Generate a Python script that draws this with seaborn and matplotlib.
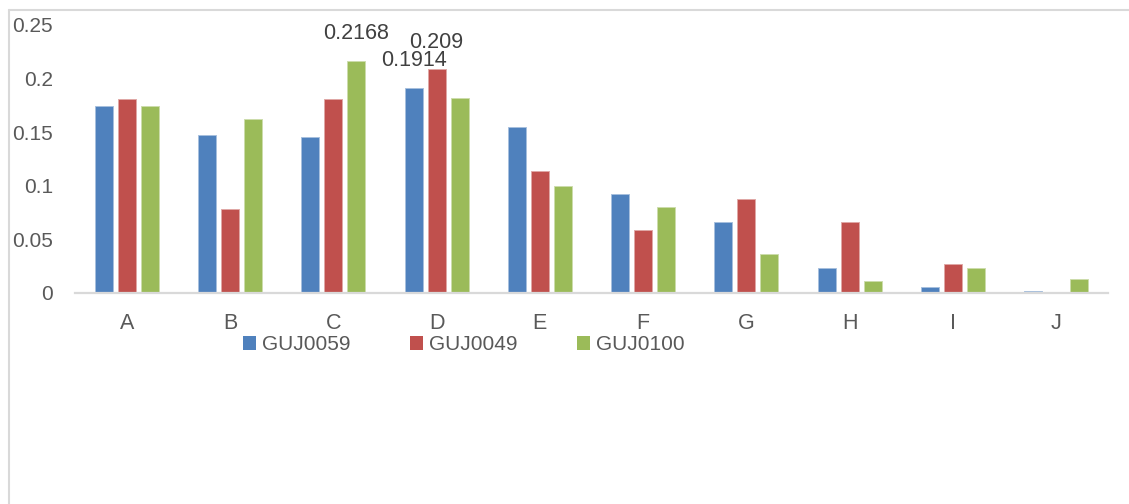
import pandas as pd
import matplotlib
matplotlib.use("Agg")
import matplotlib.pyplot as plt
from matplotlib.lines import Line2D
from matplotlib.patches import Patch
from matplotlib.ticker import FuncFormatter
import seaborn as sns

categories = ['A', 'B', 'C', 'D', 'E', 'F', 'G', 'H', 'I', 'J']
series = ['GUJ0059', 'GUJ0049', 'GUJ0100']
guj0059 = [0.1744, 0.1474, 0.1455, 0.1914, 0.1546, 0.0921, 0.0665, 0.0230, 0.0056, 0.0022]
guj0049 = [0.1807, 0.0784, 0.1807, 0.2090, 0.1135, 0.0585, 0.0880, 0.0665, 0.0271, 0.0]
guj0100 = [0.1744, 0.1623, 0.2168, 0.1822, 0.0995, 0.0799, 0.0364, 0.0112, 0.0230, 0.0133]
labeled = [('C', 'GUJ0100'), ('D', 'GUJ0059'), ('D', 'GUJ0049')]
colors = ['#4F81BD', '#C0504D', '#9BBB59']

df = pd.DataFrame({'category': categories * 3,
                   'series': [s for s in series for _ in categories],
                   'value': guj0059 + guj0049 + guj0100})

sns.set_style("white")
plt.rcParams['font.family'] = ['Liberation Sans', 'DejaVu Sans']

fig = plt.figure(figsize=(11.29, 5.04), dpi=100)
ax = fig.add_axes([75 / 1129, 211 / 504, 1033 / 1129, 268 / 504])

sns.barplot(data=df, x='category', y='value', hue='series', order=categories,
            hue_order=series, palette=colors, saturation=1, width=0.668, gap=0.22,
            linewidth=0, legend=False, ax=ax)

# light halo around bars, like the spreadsheet rendering
for p in ax.patches:
    r, g, b = p.get_facecolor()[:3]
    p.set_edgecolor((0.5 + r / 2, 0.5 + g / 2, 0.5 + b / 2))
    p.set_linewidth(0.7)

ax.set_xlim(-0.5, 9.5)
ax.set_ylim(0, 0.25)
ax.set_yticks([0, 0.05, 0.1, 0.15, 0.2, 0.25])
ax.yaxis.set_major_formatter(FuncFormatter(lambda v, p: '%g' % round(v, 2)))
ax.set_xlabel('')
ax.set_ylabel('')
ax.tick_params(axis='y', length=0, pad=16, labelsize=15, labelcolor='#595959')
ax.tick_params(axis='x', length=0, pad=14.5, labelsize=15.5, labelcolor='#595959')
for side in ['left', 'right', 'top']:
    ax.spines[side].set_visible(False)
ax.spines['bottom'].set_color('#D9D9D9')
ax.spines['bottom'].set_linewidth(1.6)

# data labels on three bars
width = 0.668 / 3
for cat, ser in labeled:
    i = categories.index(cat)
    j = series.index(ser)
    v = df[(df.category == cat) & (df.series == ser)].value.iloc[0]
    x = i + (j - 1) * width
    ax.annotate('%g' % v, (x, v), xytext=(0, 19.4), textcoords='offset points',
                ha='center', va='center', fontsize=15.5, color='#404040')

handles = [Patch(facecolor=c, edgecolor='none') for c in colors]
fig.legend(handles, series, loc='center', bbox_to_anchor=(464 / 1129, 1 - 345 / 504),
           ncol=3, frameon=False, fontsize=15, labelcolor='#595959',
           handlelength=0.61, handleheight=0.61, handletextpad=0.3,
           columnspacing=2.85, borderpad=0, borderaxespad=0)

# chart-area border (left and top edges visible)
fig.add_artist(Line2D([8.5 / 1129, 8.5 / 1129], [0, 1 - 9.5 / 504], color='#D9D9D9', lw=1.5,
                      transform=fig.transFigure))
fig.add_artist(Line2D([8.5 / 1129, 1], [1 - 9.5 / 504, 1 - 9.5 / 504], color='#D9D9D9', lw=1.5,
                      transform=fig.transFigure))

fig.savefig('out.png', dpi=100)
